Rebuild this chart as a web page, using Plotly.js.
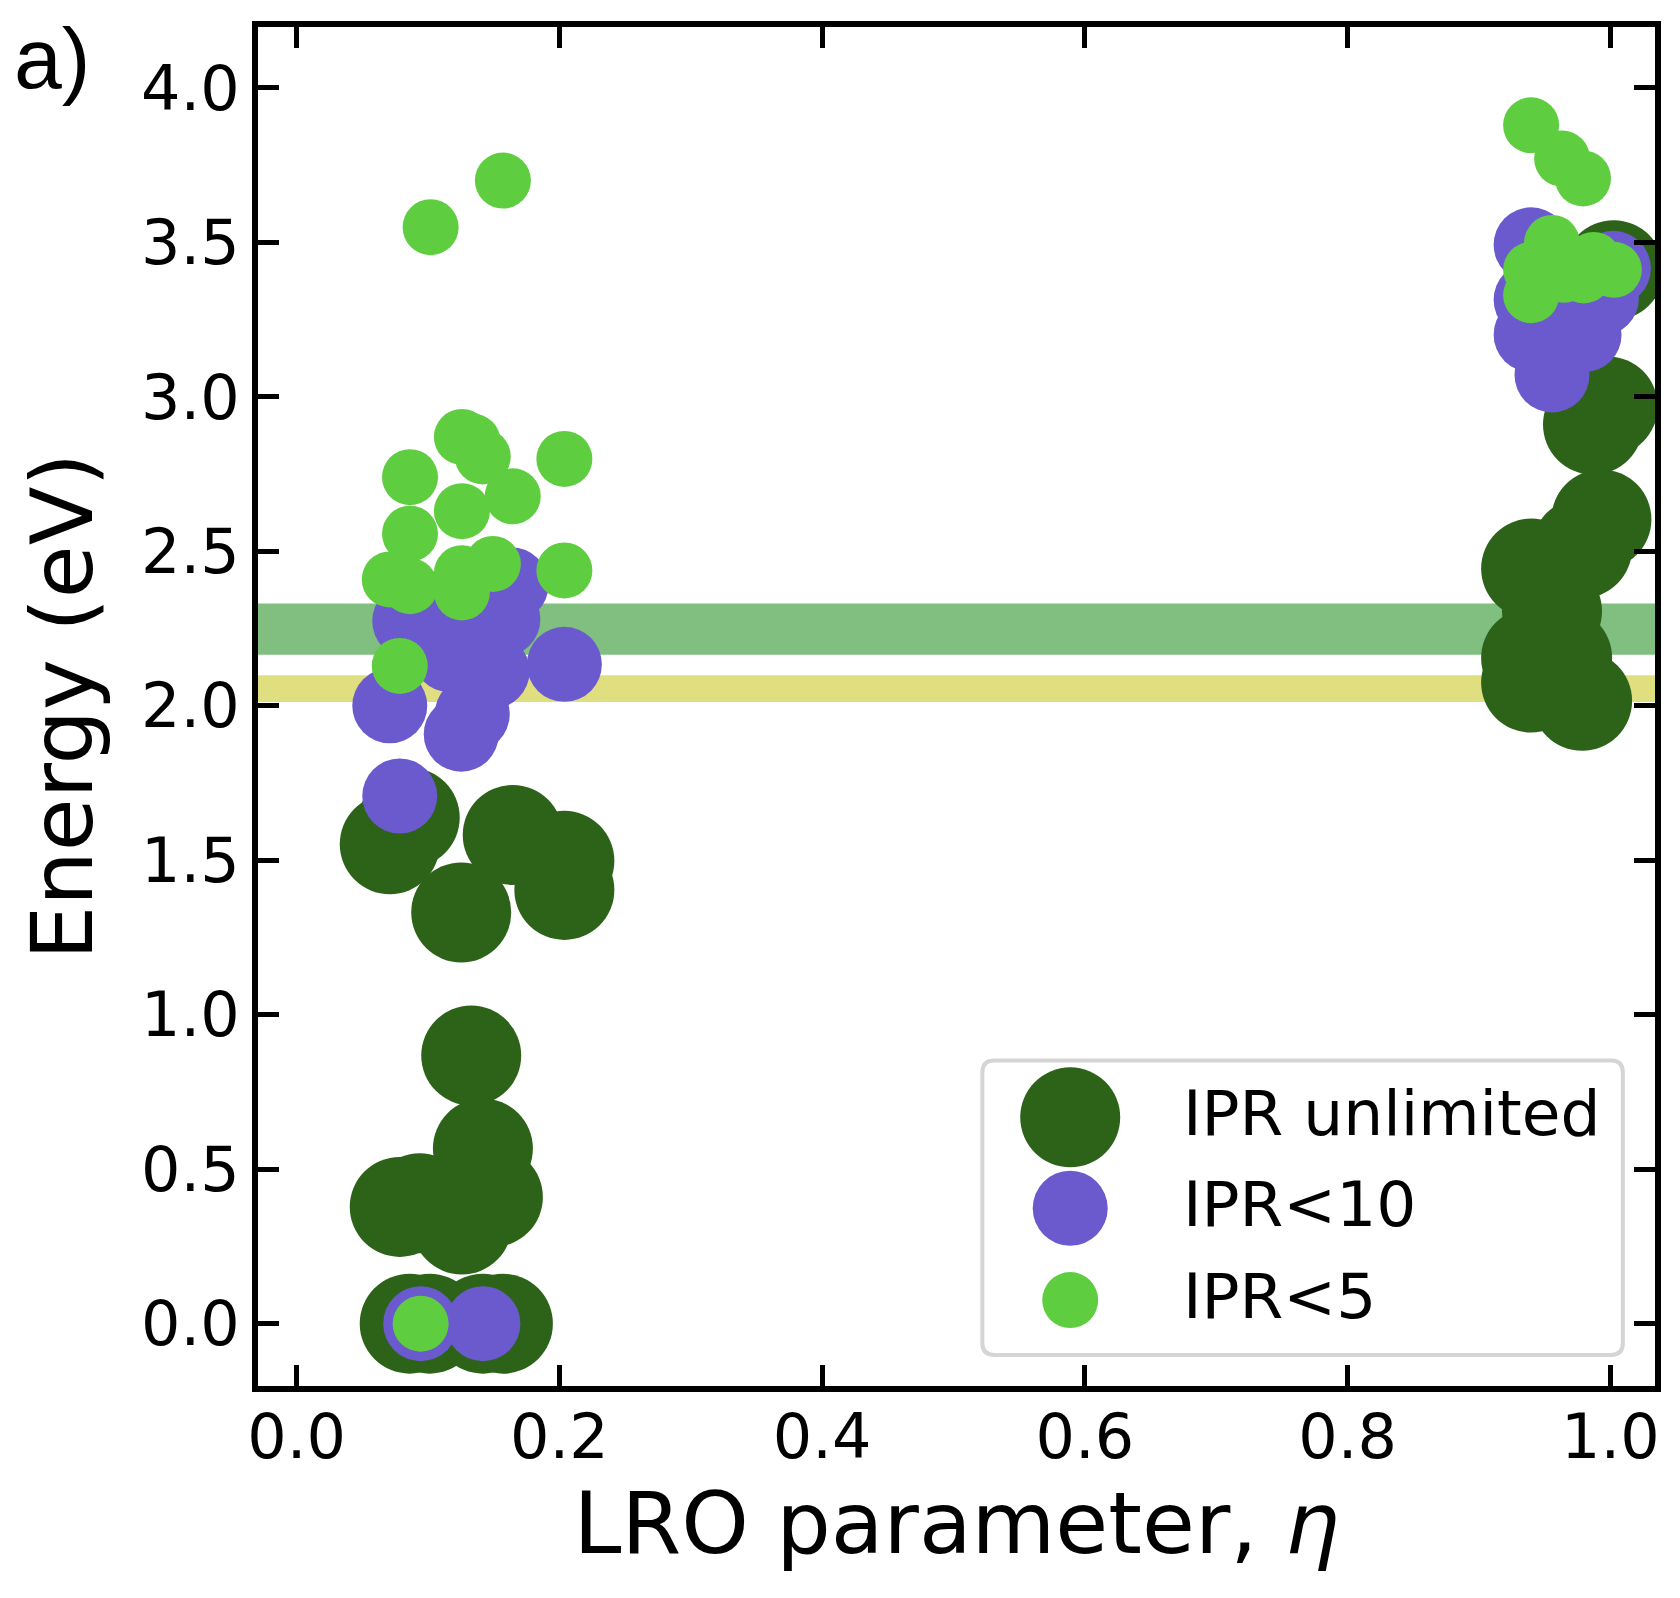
<!DOCTYPE html>
<html>
<head>
<meta charset="utf-8">
<script src="https://cdn.plot.ly/plotly-3.0.1.min.js"></script>
<style>
  html, body { margin: 0; padding: 0; background: #fff; }
  #plot { width: 1680px; height: 1598px; }
</style>
</head>
<body>
<div id="plot"></div>
<script>
// LRO parameter (eta) and energy (eV) of the states
var unlimitedEta = [0.0709, 0.0861, 0.1645, 0.2038, 0.2038, 0.1253, 0.1329, 0.1418, 0.0785, 0.0937, 0.1494, 0.1258, 0.0861, 0.1012, 0.157, 0.1418,
                    0.998, 0.9868, 0.9932, 0.9785, 0.9397, 0.9556, 0.9397, 0.9633, 0.9397, 0.9785, 1.0025];
var unlimitedE   = [1.552, 1.638, 1.582, 1.498, 1.404, 1.331, 0.868, 0.567, 0.378, 0.390, 0.410, 0.321, 0.0, 0.0, 0.0, 0.0,
                    2.969, 2.910, 2.603, 2.51, 2.444, 2.306, 2.155, 2.155, 2.075, 2.016, 3.41];

var ipr10Eta = [0.1633, 0.157, 0.1488, 0.1337, 0.1253, 0.0709, 0.2038, 0.0861, 0.1164, 0.1215, 0.0785, 0.0944, 0.1418,
                0.9397, 0.9397, 0.9397, 0.9556, 0.98, 1.0023, 0.9932, 0.9597];
var ipr10E   = [2.392, 2.280, 2.112, 1.973, 1.908, 2.000, 2.134, 2.274, 2.166, 2.328, 1.708, 0.0, 0.0,
                3.492, 3.314, 3.201, 3.071, 3.201, 3.416, 3.319, 3.244];

var ipr5Eta = [0.102, 0.157, 0.1258, 0.134, 0.1417, 0.2038, 0.0863, 0.1645, 0.1258, 0.0863, 0.0709, 0.0863, 0.1258, 0.1258, 0.1494, 0.2038, 0.0785, 0.0944,
               0.9397, 0.9633, 0.9792, 0.9556, 0.9397, 0.9397, 1.0027, 0.9797, 0.9873, 0.9645];
var ipr5E   = [3.549, 3.700, 2.870, 2.855, 2.807, 2.799, 2.740, 2.678, 2.630, 2.557, 2.409, 2.387, 2.429, 2.367, 2.459, 2.438, 2.129, 0.0,
               3.879, 3.771, 3.707, 3.498, 3.411, 3.329, 3.411, 3.393, 3.443, 3.395];

// reference energy bands [low, high]
var greenBand = [2.165, 2.331];
var yellowBand = [2.012, 2.099];

var legendLabels = ['IPR unlimited', 'IPR<10', 'IPR<5'];
var xTicks = [0.0, 0.2, 0.4, 0.6, 0.8, 1.0];
var yTicks = [0.0, 0.5, 1.0, 1.5, 2.0, 2.5, 3.0, 3.5, 4.0];

var colors = ['#2c6319', '#6a5acd', '#5fcd40'];
var sizes = [100, 75, 56];

var font = 'DejaVu Sans, Verdana, sans-serif';

var trace1 = {
  x: unlimitedEta, y: unlimitedE, name: legendLabels[0],
  type: 'scatter', mode: 'markers',
  marker: {color: colors[0], size: sizes[0], line: {width: 0}}
};
var trace2 = {
  x: ipr10Eta, y: ipr10E, name: legendLabels[1],
  type: 'scatter', mode: 'markers',
  marker: {color: colors[1], size: sizes[1], line: {width: 0}}
};
var trace3 = {
  x: ipr5Eta, y: ipr5E, name: legendLabels[2],
  type: 'scatter', mode: 'markers',
  marker: {color: colors[2], size: sizes[2], line: {width: 0}}
};

// hand made legend (plotly caps legend symbol size)
var lx0 = 0.5185, lx1 = 0.977, ly0 = 0.0228, ly1 = 0.2395;
var rx = 12 / 1400, ry = 12 / 1361;
var boxPath = 'M' + (lx0 + rx) + ',' + ly0 + ' L' + (lx1 - rx) + ',' + ly0 +
  ' Q' + lx1 + ',' + ly0 + ' ' + lx1 + ',' + (ly0 + ry) +
  ' L' + lx1 + ',' + (ly1 - ry) + ' Q' + lx1 + ',' + ly1 + ' ' + (lx1 - rx) + ',' + ly1 +
  ' L' + (lx0 + rx) + ',' + ly1 + ' Q' + lx0 + ',' + ly1 + ' ' + lx0 + ',' + (ly1 - ry) +
  ' L' + lx0 + ',' + (ly0 + ry) + ' Q' + lx0 + ',' + ly0 + ' ' + (lx0 + rx) + ',' + ly0 + ' Z';

var legendY = [0.1977, 0.1308, 0.0632];
var shapes = [
  {type: 'rect', xref: 'paper', yref: 'y', x0: 0, x1: 1, y0: greenBand[0], y1: greenBand[1],
   fillcolor: '#80bf80', line: {width: 0}, layer: 'below'},
  {type: 'rect', xref: 'paper', yref: 'y', x0: 0, x1: 1, y0: yellowBand[0], y1: yellowBand[1],
   fillcolor: '#dfdf80', line: {width: 0}, layer: 'below'},
  {type: 'path', xref: 'paper', yref: 'paper', path: boxPath,
   fillcolor: 'rgba(255,255,255,0.8)', line: {color: '#d5d5d5', width: 4}, layer: 'above'}
];
var annotations = [
  {text: 'a)', xref: 'paper', yref: 'paper', x: -0.176, y: 0.977, xanchor: 'left', yanchor: 'middle',
   showarrow: false, font: {family: 'Liberation Sans, Arial, sans-serif', size: 86, color: '#000'}}
];
for (var i = 0; i < 3; i++) {
  shapes.push({type: 'circle', xref: 'paper', yref: 'paper',
    xsizemode: 'pixel', ysizemode: 'pixel', xanchor: 0.5814, yanchor: legendY[i],
    x0: -sizes[i] / 2, x1: sizes[i] / 2, y0: -sizes[i] / 2, y1: sizes[i] / 2,
    fillcolor: colors[i], line: {width: 0}, layer: 'above'});
  annotations.push({text: legendLabels[i].replace('<', '&lt;'), xref: 'paper', yref: 'paper',
    x: 0.6605, y: legendY[i] + 0.003, xanchor: 'left', yanchor: 'middle', showarrow: false,
    font: {family: font, size: 63, color: '#000'}});
}

var axisCommon = {
  showline: true, linewidth: 6, linecolor: '#000', mirror: 'ticks',
  ticks: 'inside', ticklen: 21, tickwidth: 5, tickcolor: '#000',
  showgrid: false, zeroline: false,
  tickfont: {family: font, size: 62, color: '#000'}
};

var layout = {
  width: 1680, height: 1598,
  margin: {l: 258, r: 25, t: 27, b: 212},
  paper_bgcolor: '#fff', plot_bgcolor: '#fff',
  showlegend: false,
  xaxis: Object.assign({}, axisCommon, {
    range: [-0.0294, 1.034], tickvals: xTicks, tickformat: '.1f', ticklabelstandoff: -8,
    title: {text: 'LRO parameter, <i>η</i>', font: {family: font, size: 86, color: '#000'}, standoff: 22}
  }),
  yaxis: Object.assign({}, axisCommon, {
    range: [-0.2017, 4.197], tickvals: yTicks, tickformat: '.1f',
    title: {text: 'Energy (eV)', font: {family: font, size: 86, color: '#000'}, standoff: 22}
  }),
  shapes: shapes,
  annotations: annotations
};

Plotly.newPlot('plot', [trace1, trace2, trace3], layout, {displayModeBar: false});
</script>
</body>
</html>
